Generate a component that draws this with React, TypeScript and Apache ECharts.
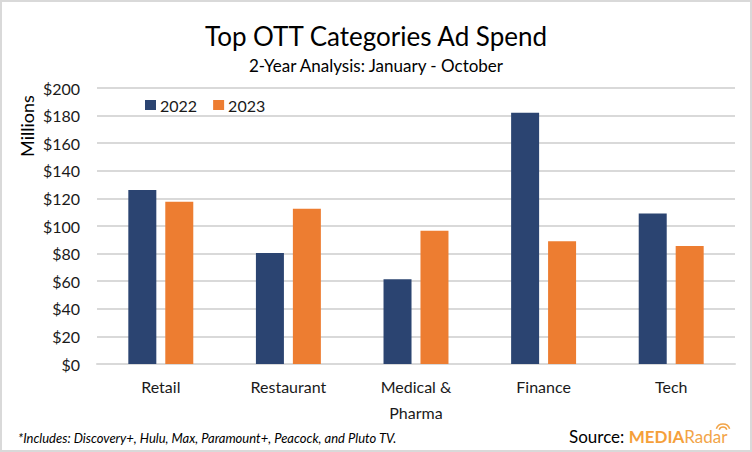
import React, { useEffect, useRef } from "react";
import * as echarts from "echarts";

const categories = ["Retail", "Restaurant", "Medical &\nPharma", "Finance", "Tech"];
const spend2022 = [126, 80.5, 61.5, 182, 109];
const spend2023 = [117.5, 112.5, 96.5, 89, 85.5];
const seriesNames = ["2022", "2023"];

const FONT = "Lato";

export default function App() {
  const ref = useRef<HTMLDivElement>(null);
  useEffect(() => {
    document.body.style.margin = "0";
    const chart = echarts.init(ref.current!, null, { renderer: "svg" });
    chart.setOption({
      animation: false,
      backgroundColor: "#ffffff",
      textStyle: { fontFamily: FONT },
      title: [
        {
          text: "Top OTT Categories Ad Spend",
          left: "center",
          top: 18,
          textStyle: { fontFamily: FONT, fontSize: 26, fontWeight: "normal", color: "#000" },
        },
        {
          text: "2-Year Analysis: January - October",
          left: "center",
          top: 52,
          textStyle: { fontFamily: FONT, fontSize: 17, fontWeight: "normal", color: "#000" },
        },
      ],
      legend: {
        left: 140,
        top: 92,
        itemWidth: 11,
        itemHeight: 10,
        itemGap: 16,
        icon: "rect",
        textStyle: { fontFamily: FONT, fontSize: 16, color: "#1a1a1a", padding: [0, 0, 0, -1] },
        data: seriesNames,
      },
      grid: { left: 97, right: 17, top: 88, bottom: 88, containLabel: false },
      xAxis: {
        type: "category",
        data: categories,
        axisLine: { show: true, lineStyle: { color: "#d9d9d9", width: 2 } },
        axisTick: { show: false },
        axisLabel: {
          fontFamily: FONT,
          fontSize: 16,
          color: "#1a1a1a",
          margin: 9,
          lineHeight: 26,
        },
      },
      yAxis: {
        type: "value",
        min: 0,
        max: 200,
        interval: 20,
        axisLine: { show: false },
        axisTick: { show: false },
        splitLine: { lineStyle: { color: "#d9d9d9", width: 2 } },
        axisLabel: {
          fontFamily: FONT,
          fontSize: 16,
          color: "#1a1a1a",
          margin: 17,
          formatter: (v: number) => "$" + v,
        },
      },
      series: [
        {
          name: seriesNames[0],
          type: "bar",
          data: spend2022,
          barWidth: 28,
          barGap: "32%",
          itemStyle: { color: "#2b4471" },
        },
        {
          name: seriesNames[1],
          type: "bar",
          data: spend2023,
          barWidth: 28,
          barGap: "32%",
          itemStyle: { color: "#ed7d31" },
        },
      ],
      graphic: [
        {
          type: "rect",
          shape: { x: 1, y: 1, width: 750, height: 450 },
          style: { fill: "none", stroke: "#d9d9d9", lineWidth: 2 },
          silent: true,
        },
        {
          type: "text",
          x: 27,
          y: 126,
          rotation: Math.PI / 2,
          style: {
            text: "Millions",
            fontFamily: FONT,
            fontSize: 18,
            fill: "#000",
            align: "center",
            verticalAlign: "middle",
          },
        },
        {
          type: "text",
          x: 18,
          y: 438,
          style: {
            text: "*Includes: Discovery+, Hulu, Max, Paramount+, Peacock, and Pluto TV.",
            fontFamily: FONT,
            fontSize: 13,
            fontStyle: "italic",
            fill: "#000",
            verticalAlign: "middle",
          },
        },
        {
          type: "text",
          x: 569,
          y: 436,
          style: {
            text: "{s|Source: }{m|MEDIA}{r|Radar}",
            verticalAlign: "middle",
            rich: {
              s: { fontFamily: FONT, fontSize: 17, fill: "#000" },
              m: { fontFamily: FONT, fontSize: 17, fontWeight: "bold", fill: "#f5a03a" },
              r: { fontFamily: FONT, fontSize: 17, fontWeight: "normal", fill: "#f2a447" },
            },
          },
        },
        {
          type: "arc",
          shape: { cx: 723, cy: 431, r: 4, startAngle: Math.PI * 1.1, endAngle: Math.PI * 1.9 },
          style: { stroke: "#f2a447", lineWidth: 1.5, fill: "none" },
        },
        {
          type: "arc",
          shape: { cx: 723, cy: 431, r: 7, startAngle: Math.PI * 1.1, endAngle: Math.PI * 1.9 },
          style: { stroke: "#f2a447", lineWidth: 1.5, fill: "none" },
        },
      ],
    });
    return () => chart.dispose();
  }, []);
  return (
    <div
      ref={ref}
      style={{ position: "fixed", left: 0, top: 0, width: 752, height: 452 }}
    />
  );
}
